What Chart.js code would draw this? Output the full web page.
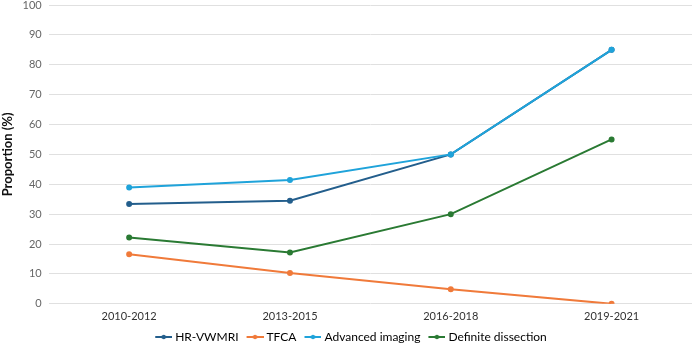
<!DOCTYPE html>
<html><head><meta charset="utf-8">
<script src="https://cdn.jsdelivr.net/npm/chart.js@4"></script>
<style>html,body{margin:0;padding:0;background:#fff}#wrap{width:696px;height:353px}</style>
</head><body><div id="wrap"><canvas id="c"></canvas></div>
<script>
const categories = ["2010-2012", "2013-2015", "2016-2018", "2019-2021"];
const hrVwmri = [33.4, 34.5, 50, 85];
const tfca = [16.6, 10.3, 4.9, 0];
const advancedImaging = [38.9, 41.4, 50, 85];
const definiteDissection = [22.2, 17.2, 30, 55];
const yTicks = [0, 10, 20, 30, 40, 50, 60, 70, 80, 90, 100];

const colors = ["#235E8C", "#F07A3A", "#1FA3DA", "#2A7A33"];
const names = ["HR-VWMRI", "TFCA", "Advanced imaging", "Definite dissection"];
const series = [hrVwmri, tfca, advancedImaging, definiteDissection];
const FONT = "Lato, 'Open Sans', sans-serif";

function markerImg(col){
  const cv = document.createElement('canvas');
  cv.width = 26; cv.height = 6;
  const g = cv.getContext('2d');
  g.strokeStyle = col; g.lineWidth = 2;
  g.beginPath(); g.moveTo(9,3); g.lineTo(26,3); g.stroke();
  g.fillStyle = col; g.beginPath(); g.arc(17.5,3,2.2,0,Math.PI*2); g.fill();
  return cv;
}

new Chart(document.getElementById('c'), {
  type: 'line',
  data: {
    labels: categories,
    datasets: series.map((d,i)=>({
      label: names[i], data: d, borderColor: colors[i], backgroundColor: colors[i],
      borderWidth: 2, pointRadius: 2, pointHoverRadius: 2, tension: 0, fill: false,
      order: 4 - i
    }))
  },
  options: {
    responsive: true, maintainAspectRatio: false, animation: false,
    layout: { padding: { left: 0, right: 0, top: 5, bottom: 0 } },
    plugins: {
      tooltip: { enabled: false },
      legend: {
        position: 'bottom',
        labels: {
          font: { family: FONT, size: 12 }, color: '#222',
          boxWidth: 20, boxHeight: 6, pointStyleWidth: 20, padding: 2, usePointStyle: true,
          generateLabels: (chart) => chart.data.datasets.map((ds,i)=>({
            text: ds.label, pointStyle: markerImg(colors[i]), fillStyle: colors[i],
            strokeStyle: colors[i], lineWidth: 0, datasetIndex: i, hidden: false
          }))
        }
      }
    },
    scales: {
      x: {
        offset: true,
        grid: { display: false, drawTicks: false },
        border: { display: false },
        ticks: { color: '#333', font: { family: FONT, size: 11 }, padding: 6 }
      },
      y: {
        min: 0, max: 100,
        afterBuildTicks: (ax) => { ax.ticks = yTicks.map(v=>({value:v})); },
        afterFit: (s) => { s.paddingTop = 0; },
        grid: { color: '#E0E0E0', lineWidth: 1, drawTicks: false },
        border: { display: false },
        ticks: { color: '#666', font: { family: FONT, size: 11 }, padding: 7 },
        title: { display: true, text: 'Proportion (%)', color: '#111',
          font: { family: FONT, size: 13, weight: 'bold' }, padding: { top: 0, bottom: 0 } }
      }
    }
  }
});
</script></body></html>
